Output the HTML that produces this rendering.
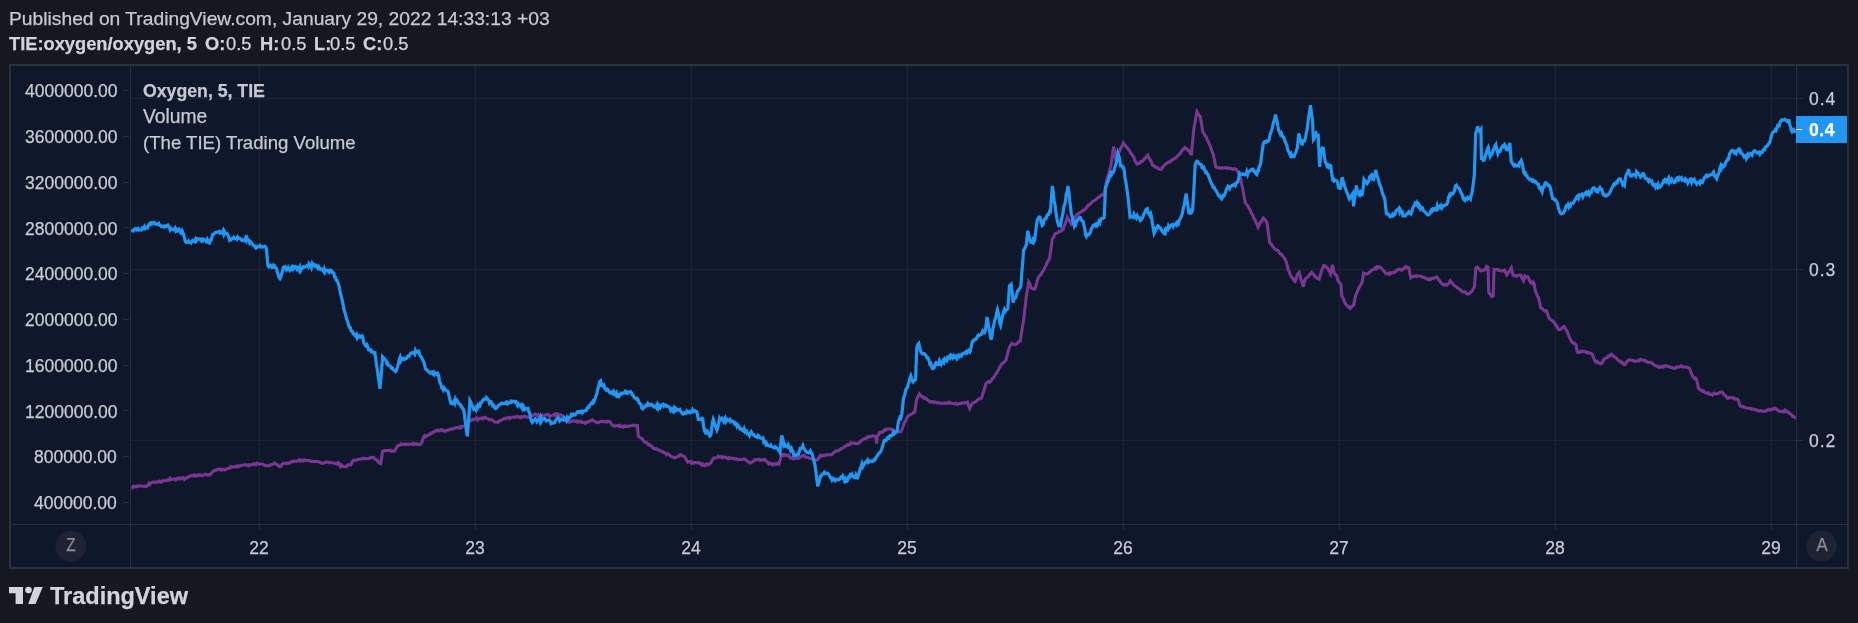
<!DOCTYPE html><html><head><meta charset="utf-8"><style>
html,body{margin:0;padding:0;}
body{width:1858px;height:623px;overflow:hidden;background:#151821;position:relative;font-family:"Liberation Sans", sans-serif;}
.t{position:absolute;white-space:nowrap;line-height:1;will-change:transform;-webkit-text-stroke:0.25px currentColor;}
#panel{position:absolute;left:9px;top:64px;width:1840px;height:505px;box-sizing:border-box;border:2px solid #2d3039;background:#0f172a;}

</style></head><body>
<div id="panel"></div>
<svg width="1858" height="623" viewBox="0 0 1858 623" style="position:absolute;left:0;top:0">
<defs><clipPath id="pane"><rect x="131" y="66" width="1665" height="458"/></clipPath></defs>
<rect x="259" y="66" width="1" height="458" fill="#20232d"/>
<rect x="475" y="66" width="1" height="458" fill="#20232d"/>
<rect x="691" y="66" width="1" height="458" fill="#20232d"/>
<rect x="907" y="66" width="1" height="458" fill="#20232d"/>
<rect x="1123" y="66" width="1" height="458" fill="#20232d"/>
<rect x="1339" y="66" width="1" height="458" fill="#20232d"/>
<rect x="1555" y="66" width="1" height="458" fill="#20232d"/>
<rect x="1771" y="66" width="1" height="458" fill="#20232d"/>
<rect x="131" y="98" width="1665" height="1" fill="#20232d"/>
<rect x="131" y="269" width="1665" height="1" fill="#20232d"/>
<rect x="131" y="440" width="1665" height="1" fill="#20232d"/>
<rect x="130" y="66" width="1" height="501" fill="#2a2e39"/>
<rect x="1796" y="66" width="1" height="501" fill="#2a2e39"/>
<rect x="11" y="524" width="1836" height="1" fill="#2a2e39"/>
<rect x="259" y="525" width="1" height="5" fill="#2a2e39"/>
<rect x="475" y="525" width="1" height="5" fill="#2a2e39"/>
<rect x="691" y="525" width="1" height="5" fill="#2a2e39"/>
<rect x="907" y="525" width="1" height="5" fill="#2a2e39"/>
<rect x="1123" y="525" width="1" height="5" fill="#2a2e39"/>
<rect x="1339" y="525" width="1" height="5" fill="#2a2e39"/>
<rect x="1555" y="525" width="1" height="5" fill="#2a2e39"/>
<rect x="1771" y="525" width="1" height="5" fill="#2a2e39"/>
<rect x="123" y="90" width="6" height="1" fill="#2a2e39"/>
<rect x="123" y="136" width="6" height="1" fill="#2a2e39"/>
<rect x="123" y="182" width="6" height="1" fill="#2a2e39"/>
<rect x="123" y="227" width="6" height="1" fill="#2a2e39"/>
<rect x="123" y="273" width="6" height="1" fill="#2a2e39"/>
<rect x="123" y="319" width="6" height="1" fill="#2a2e39"/>
<rect x="123" y="365" width="6" height="1" fill="#2a2e39"/>
<rect x="123" y="410" width="6" height="1" fill="#2a2e39"/>
<rect x="123" y="456" width="6" height="1" fill="#2a2e39"/>
<rect x="123" y="502" width="6" height="1" fill="#2a2e39"/>
<rect x="1797" y="98" width="6" height="1" fill="#2a2e39"/>
<rect x="1797" y="269" width="6" height="1" fill="#2a2e39"/>
<rect x="1797" y="440" width="6" height="1" fill="#2a2e39"/>
<g clip-path="url(#pane)" fill="none" stroke-linejoin="miter" stroke-miterlimit="4" stroke-linecap="butt">
<polyline points="131.5,486.4 132.5,487.5 133.5,486.1 134.5,486.6 135.6,486.5 136.6,486.8 137.6,485.8 138.6,486.2 139.6,486.1 140.6,485.9 141.6,486.0 142.6,486.2 143.7,486.3 144.7,486.0 145.7,486.6 146.7,486.4 147.7,485.4 148.7,483.4 149.8,484.6 150.8,483.1 151.8,482.5 152.9,482.1 154.0,482.4 155.1,482.3 156.2,482.2 157.2,481.7 158.3,482.1 159.4,481.2 160.5,481.8 161.5,482.2 162.6,480.7 163.6,480.9 164.7,480.8 165.7,480.6 166.8,480.1 167.8,480.0 169.0,480.1 170.1,478.1 171.3,479.5 172.4,479.3 173.6,479.3 174.6,479.0 175.7,479.8 176.7,478.6 177.8,479.0 178.8,478.0 179.9,479.0 180.9,478.9 182.1,477.9 183.2,477.7 184.4,479.2 185.5,478.3 186.7,477.8 187.9,477.1 189.1,476.6 190.3,476.0 191.4,475.3 192.5,475.5 193.6,476.1 194.7,475.0 195.8,476.1 196.9,476.0 198.0,474.9 199.1,475.4 200.1,474.6 201.2,474.9 202.2,475.7 203.2,475.4 204.2,474.7 205.2,474.1 206.2,474.7 207.2,475.0 208.2,474.6 209.2,475.2 210.3,474.2 211.4,473.4 212.5,471.9 213.6,470.9 214.6,470.3 215.6,470.5 216.6,469.6 217.6,469.8 218.6,469.1 219.8,469.1 221.0,470.2 222.1,469.5 223.3,469.4 224.5,470.1 225.5,469.7 226.6,468.9 227.6,468.4 228.6,468.3 229.6,468.3 230.7,466.6 231.7,467.2 232.7,467.0 233.8,466.8 234.8,466.6 235.9,466.9 236.9,465.8 238.0,466.6 239.0,466.2 240.4,465.6 241.9,465.3 242.9,465.2 244.0,465.0 245.0,464.9 246.1,464.7 247.1,465.1 248.2,465.8 249.2,464.8 250.3,465.1 251.4,464.8 252.5,464.6 253.5,463.9 254.6,464.3 255.7,464.8 256.8,463.1 257.9,463.6 259.0,464.0 260.0,464.2 261.1,464.0 262.2,464.0 263.4,464.6 264.6,465.1 265.7,465.8 266.9,465.6 268.1,465.3 269.3,465.8 270.5,464.9 271.7,464.6 273.1,464.1 274.6,462.9 275.6,463.7 276.6,464.4 277.7,464.8 278.7,466.1 279.7,466.5 280.9,466.1 282.1,464.3 283.3,463.3 284.4,463.3 285.5,463.4 286.6,463.1 287.7,463.4 288.8,463.1 289.9,462.9 291.0,461.9 292.0,461.5 293.1,461.8 294.2,461.0 295.2,461.2 296.3,461.3 297.3,460.8 298.4,460.7 299.4,459.8 300.5,461.1 301.5,460.4 302.5,460.0 303.6,460.9 304.6,460.0 305.7,460.3 306.7,460.7 307.8,460.4 308.8,460.7 309.9,460.5 311.0,461.4 312.0,461.5 313.1,461.4 314.1,461.6 315.1,461.4 316.2,461.2 317.2,461.4 318.2,461.7 319.4,462.0 320.6,462.7 321.8,463.2 323.0,463.3 324.1,462.7 325.3,462.2 326.4,462.0 327.6,462.1 328.7,462.8 329.8,462.4 330.9,462.6 332.0,462.8 333.1,463.0 334.2,463.0 335.3,463.6 336.4,463.2 337.4,464.0 338.4,462.8 339.4,464.5 340.4,466.3 341.4,464.9 342.4,466.0 343.4,466.8 344.4,466.8 345.5,466.5 346.6,466.7 347.6,465.2 348.7,464.9 349.8,465.0 350.9,464.8 352.0,462.4 353.1,460.7 354.1,460.0 355.1,460.5 356.2,460.1 357.2,459.7 358.2,459.5 359.3,459.1 360.4,459.1 361.4,458.7 362.5,458.5 363.7,458.2 364.8,458.7 366.0,458.7 367.1,458.5 368.3,458.5 369.3,458.6 370.3,457.5 371.4,457.7 372.4,457.3 373.4,457.3 374.6,458.8 375.9,459.3 377.1,460.0 378.3,462.2 379.5,463.1 380.7,463.6 382.6,451.2 383.8,450.9 384.9,450.4 386.1,450.9 387.2,450.5 388.2,450.5 389.3,450.6 390.3,450.3 391.4,451.2 392.4,451.1 393.5,451.3 394.5,451.2 395.9,448.8 397.4,446.2 398.7,445.2 400.0,445.0 401.0,443.8 402.0,444.6 403.0,444.3 404.0,444.2 405.0,444.7 406.0,444.1 407.0,444.0 408.0,444.7 409.0,444.1 410.0,444.3 411.0,444.2 412.0,444.4 413.0,443.4 414.1,444.5 415.1,444.0 416.1,443.6 417.1,444.3 418.1,444.2 419.1,444.6 420.1,444.3 421.1,444.0 422.4,440.6 423.7,436.9 424.7,435.7 425.7,436.7 426.7,436.1 427.7,435.3 428.7,434.7 429.7,434.5 430.7,433.1 431.7,433.3 432.7,432.5 433.7,432.0 434.7,431.0 435.8,431.1 436.8,430.6 437.8,429.9 438.9,430.9 440.0,430.7 441.1,429.7 442.2,429.8 443.3,430.8 444.4,430.9 445.5,431.2 446.6,430.4 447.7,429.8 448.8,430.0 449.9,429.2 451.0,429.0 452.1,429.4 453.2,428.6 454.2,428.5 455.3,427.8 456.3,427.4 457.4,427.6 458.4,427.4 459.5,428.0 460.5,426.7 461.6,427.5 462.7,426.2 463.7,426.2 464.8,426.1 465.9,425.3 466.9,423.6 468.0,422.9 469.1,421.2 470.1,421.1 471.2,419.7 472.3,420.0 473.3,419.1 474.4,419.3 475.5,418.8 476.5,417.9 477.6,419.9 478.7,418.8 479.7,418.7 480.8,418.3 481.9,418.0 482.9,418.8 484.0,417.6 485.1,417.2 486.1,418.2 487.2,418.6 488.3,419.0 489.4,419.8 490.4,419.6 491.5,419.7 492.6,420.2 493.7,421.3 494.8,421.9 495.8,422.2 496.9,422.2 498.0,422.4 499.1,420.9 500.2,421.0 501.3,420.3 502.4,419.4 503.5,418.6 504.6,418.4 505.6,418.7 506.7,417.8 507.7,417.9 508.7,417.4 509.8,418.5 510.8,417.6 511.8,417.3 512.8,417.2 513.9,417.1 514.9,417.1 516.0,417.1 517.0,416.3 518.1,416.6 519.2,417.3 520.2,417.6 521.3,416.6 522.4,417.2 523.4,416.8 524.5,416.1 525.6,417.0 526.6,416.6 527.7,417.1 528.8,417.1 529.8,416.3 530.9,416.0 532.0,415.0 533.0,415.4 534.1,415.0 535.1,414.1 536.1,415.1 537.1,415.6 538.2,414.5 539.2,415.4 540.2,415.6 541.2,415.0 542.3,415.0 543.3,415.6 544.4,415.2 545.4,415.0 546.5,414.4 547.6,414.9 548.6,414.7 549.7,416.6 550.7,415.7 551.8,415.6 552.8,415.2 553.9,414.4 554.9,415.5 555.9,413.9 557.0,414.8 558.0,413.8 559.1,414.8 560.2,414.9 561.3,415.1 562.4,415.9 563.5,417.1 564.5,417.8 565.6,419.9 566.6,421.6 567.7,422.1 568.8,422.3 569.9,422.2 571.0,421.3 572.1,421.6 573.2,420.8 574.3,420.9 575.4,421.3 576.5,420.8 577.6,422.2 578.7,421.5 579.8,421.8 580.9,421.2 582.0,422.4 583.1,422.3 584.2,422.4 585.3,423.3 586.3,422.1 587.3,422.4 588.3,421.6 589.4,421.6 590.4,420.7 591.4,420.3 592.4,419.8 593.5,421.0 594.5,421.3 595.6,421.8 596.6,422.7 597.7,422.6 598.8,422.5 599.8,421.8 600.9,421.6 601.9,421.1 603.0,421.6 604.0,421.8 605.0,421.4 606.0,421.8 607.0,422.0 608.0,421.2 609.0,421.7 610.0,421.6 611.4,424.2 612.7,425.6 613.8,425.7 614.9,426.2 615.9,425.8 617.0,425.6 618.1,426.0 619.2,425.3 620.2,426.6 621.3,426.2 622.4,426.5 623.4,427.1 624.4,425.8 625.4,426.4 626.5,426.4 627.5,426.1 628.5,426.3 629.5,426.1 630.6,425.7 631.8,425.5 632.9,425.2 634.0,425.6 635.1,425.4 636.3,425.8 637.4,425.6 638.3,436.2 639.3,436.9 640.3,437.7 641.3,438.5 642.4,438.9 643.4,440.5 644.4,441.7 645.4,442.4 646.4,442.4 647.4,443.5 648.4,444.6 649.4,444.6 650.4,445.6 651.4,446.0 652.4,446.8 653.5,448.5 654.6,448.5 655.7,449.0 656.8,448.7 657.9,449.8 659.0,450.0 660.1,450.8 661.2,451.2 662.3,451.5 663.4,452.4 664.5,452.5 665.7,453.5 666.8,454.8 667.9,453.9 669.0,454.4 670.1,455.6 671.2,456.4 672.3,457.1 673.4,457.2 674.5,457.9 675.5,457.6 676.6,457.0 677.6,456.6 678.6,456.4 679.7,454.9 680.7,454.7 681.8,455.7 682.9,456.1 684.0,456.4 685.1,457.4 686.4,460.0 687.7,462.2 688.8,461.7 689.9,461.6 691.0,462.9 692.1,461.9 693.2,463.3 694.3,463.1 695.4,462.4 696.5,462.7 697.6,462.7 698.7,462.4 699.8,463.8 701.0,463.5 702.1,465.3 703.2,464.2 704.3,465.4 705.4,465.7 706.5,463.9 707.5,464.5 708.6,464.8 709.6,463.5 710.7,463.2 712.0,460.4 713.3,458.3 714.3,457.9 715.3,458.0 716.3,458.0 717.3,457.3 718.3,456.2 719.3,457.1 720.3,457.2 721.3,456.5 722.4,457.8 723.5,457.0 724.6,457.3 725.7,457.1 726.8,458.0 727.9,458.7 729.0,457.6 730.1,458.3 731.1,458.5 732.1,458.1 733.1,458.3 734.1,458.7 735.2,459.1 736.2,458.6 737.2,459.0 738.2,459.9 739.2,459.4 740.3,459.5 741.4,459.6 742.6,459.3 743.7,459.0 744.8,459.0 745.9,460.0 747.0,460.9 748.1,461.5 749.2,462.7 750.3,463.1 751.4,462.3 752.6,461.9 753.8,460.6 754.9,459.8 755.9,460.1 756.9,459.5 758.0,459.5 759.0,459.3 760.0,460.4 761.0,460.0 762.0,459.9 763.1,460.1 764.1,459.4 765.1,459.8 766.3,461.2 767.6,462.4 768.8,464.0 769.8,463.1 770.8,463.9 771.8,463.6 772.8,464.7 773.8,463.7 774.9,463.7 775.9,464.4 776.9,464.0 777.9,463.4 778.9,464.0 780.3,459.2 781.7,454.2 782.8,454.2 783.9,455.6 785.0,454.6 786.1,455.1 787.2,455.7 788.3,455.0 789.4,456.5 790.5,458.2 791.5,457.8 792.6,458.0 793.7,459.0 794.7,458.7 795.8,458.0 796.8,457.7 797.9,458.5 798.9,457.9 799.9,457.3 801.0,456.9 802.0,455.7 803.0,455.6 804.1,455.4 805.1,457.0 806.1,457.1 807.2,457.3 808.2,457.5 809.2,458.2 810.3,458.4 811.3,458.5 812.4,459.0 813.5,459.4 814.6,459.5 815.7,459.8 816.8,460.3 818.0,459.3 819.3,456.9 820.5,455.3 821.5,456.2 822.5,455.5 823.6,455.2 824.6,455.6 825.6,454.8 826.6,454.9 827.7,454.8 828.7,454.9 829.7,454.8 830.8,454.6 831.8,454.7 832.9,453.5 833.9,452.2 835.0,451.8 836.0,450.8 837.1,451.1 838.2,450.8 839.2,450.2 840.3,449.3 841.3,448.6 842.4,448.1 843.4,447.4 844.5,446.5 845.6,446.3 846.6,445.7 847.7,444.6 848.7,445.0 849.8,444.8 850.8,442.9 851.9,443.2 853.0,443.2 854.1,442.9 855.2,443.7 856.3,443.5 857.4,443.7 858.5,443.5 859.6,442.5 860.8,441.0 861.9,440.1 863.0,439.5 864.1,438.8 865.1,438.8 866.2,437.7 867.2,437.9 868.3,436.6 869.3,437.2 870.4,436.3 871.5,436.5 872.6,435.8 873.7,435.9 874.8,436.4 875.9,436.3 876.6,443.5 877.4,436.0 878.4,435.0 879.5,432.4 880.5,432.6 881.6,432.1 882.7,432.1 883.8,430.5 884.8,429.5 885.9,430.1 887.0,428.9 888.2,429.0 889.5,429.0 890.7,428.9 891.8,429.9 892.9,429.8 894.0,430.8 895.1,431.3 896.2,432.6 897.4,431.8 898.5,432.0 899.6,431.4 900.8,431.7 902.0,429.4 903.3,425.8 904.5,422.5 905.7,420.7 907.0,417.4 908.2,416.0 909.3,415.3 910.4,414.7 911.5,414.2 912.5,413.7 913.6,412.5 914.7,412.3 916.5,400.3 917.9,396.7 919.3,393.9 920.5,395.2 921.8,396.7 923.0,396.6 924.1,398.3 925.1,398.0 926.2,398.5 927.3,399.8 928.3,400.6 929.4,401.2 930.4,402.2 931.5,401.5 932.5,401.5 933.6,402.5 934.6,401.9 935.7,402.1 936.7,402.9 937.8,402.8 938.8,402.6 939.9,403.2 940.9,403.5 942.0,403.2 943.0,403.2 944.1,402.9 945.2,403.5 946.2,402.9 947.3,402.8 948.4,403.4 949.4,402.4 950.5,402.8 951.5,403.4 952.6,403.5 953.6,403.3 954.6,403.8 955.6,403.2 956.7,404.2 957.7,404.3 958.8,403.6 959.9,403.4 960.9,403.6 962.0,402.9 963.1,403.0 964.2,402.9 965.2,402.9 966.3,402.3 967.4,401.9 968.6,405.6 969.8,408.4 971.0,405.6 972.2,403.5 973.3,402.7 974.3,402.5 975.4,402.0 976.5,401.0 977.5,399.9 978.6,399.0 979.7,398.4 980.7,398.7 981.8,397.5 982.9,393.4 984.0,390.2 985.0,387.0 986.1,383.1 987.3,382.7 988.5,381.6 989.8,382.2 991.0,380.7 992.0,379.3 993.1,377.9 994.1,376.7 995.2,374.8 996.2,373.5 997.4,371.7 998.7,369.2 999.9,366.7 1001.1,365.0 1002.3,363.4 1003.5,362.8 1004.7,361.4 1005.9,360.2 1007.1,355.7 1008.3,351.2 1009.5,347.0 1010.7,345.1 1011.9,343.4 1013.1,344.2 1014.3,344.7 1015.5,344.6 1016.7,343.6 1017.9,342.9 1019.1,341.1 1020.3,341.0 1021.5,332.8 1022.7,325.4 1023.9,318.1 1025.1,306.9 1026.3,296.5 1027.5,289.6 1028.7,282.0 1029.9,284.0 1031.1,288.0 1032.3,288.6 1033.5,289.1 1034.7,289.2 1035.9,286.2 1037.2,281.0 1038.4,277.2 1039.6,275.8 1040.8,274.7 1042.0,272.4 1043.0,271.2 1044.1,269.2 1045.2,266.6 1046.3,264.7 1047.4,262.1 1048.5,260.5 1049.6,258.3 1050.9,249.1 1052.3,239.2 1053.7,237.1 1055.0,233.7 1056.0,233.4 1057.0,233.1 1058.1,232.6 1059.1,231.3 1060.1,231.4 1061.2,231.1 1062.2,230.0 1063.2,229.6 1064.2,226.1 1065.2,223.5 1066.3,220.4 1067.3,217.3 1068.3,219.3 1069.3,219.9 1070.4,222.3 1071.4,224.2 1072.5,223.2 1073.6,220.9 1074.7,218.4 1075.8,216.4 1076.9,214.6 1078.0,213.8 1079.2,212.8 1080.3,212.3 1081.4,211.8 1082.6,210.6 1083.7,210.5 1084.7,209.4 1085.8,208.6 1086.8,206.8 1087.8,206.2 1088.8,204.7 1089.9,204.4 1090.9,203.4 1091.9,202.3 1093.0,201.2 1094.1,200.7 1095.1,200.1 1096.2,199.3 1097.3,198.2 1098.5,196.9 1099.6,196.7 1100.8,195.5 1101.9,194.6 1103.0,195.2 1104.2,194.1 1105.6,186.9 1106.9,179.1 1107.9,176.3 1109.0,172.6 1110.0,168.7 1111.0,165.5 1112.3,156.0 1113.7,146.4 1114.8,153.0 1115.9,160.0 1117.0,157.9 1118.1,153.5 1119.2,151.8 1120.2,149.8 1121.2,147.2 1122.3,145.6 1123.3,143.1 1124.3,144.8 1125.3,145.1 1126.4,147.2 1127.4,147.7 1128.5,149.8 1129.6,150.3 1130.6,153.4 1131.7,153.7 1132.8,155.9 1133.8,157.3 1134.8,160.4 1135.9,161.7 1136.9,164.1 1137.9,163.8 1139.0,163.3 1140.0,162.9 1141.1,161.3 1142.2,161.4 1143.3,160.3 1144.4,158.5 1145.5,158.1 1146.6,156.3 1147.7,155.2 1148.7,157.4 1149.7,159.2 1150.8,160.8 1151.8,163.3 1152.8,165.5 1153.9,165.6 1155.0,166.8 1156.1,167.2 1157.2,167.4 1158.3,168.8 1159.4,168.9 1160.5,169.3 1161.6,169.1 1162.7,167.0 1163.8,165.9 1164.8,164.7 1165.9,164.1 1167.0,162.9 1168.0,162.3 1169.0,161.8 1170.0,162.0 1171.0,161.0 1172.0,159.8 1173.0,159.7 1174.0,158.8 1175.0,158.2 1176.0,157.8 1177.0,156.6 1178.0,155.5 1179.0,154.7 1180.0,153.7 1181.0,152.1 1182.0,150.6 1183.0,149.8 1184.0,148.6 1185.0,147.5 1186.1,148.4 1187.1,149.1 1188.2,150.6 1189.3,150.9 1190.3,153.4 1191.4,153.9 1192.7,141.4 1193.9,128.2 1194.9,123.0 1196.0,116.7 1197.0,111.6 1198.1,113.4 1199.2,115.6 1200.3,116.7 1201.6,124.3 1202.9,132.1 1203.9,133.4 1205.0,135.7 1206.0,136.5 1207.1,139.7 1208.1,141.1 1209.1,143.9 1210.1,145.6 1211.2,149.1 1212.2,151.9 1213.2,153.9 1214.5,160.6 1215.8,166.8 1216.9,167.3 1217.9,167.9 1219.0,167.6 1220.1,168.3 1221.1,167.8 1222.2,168.1 1223.3,167.8 1224.4,168.0 1225.5,167.6 1226.6,168.3 1227.7,167.8 1228.8,168.3 1229.9,168.1 1231.0,168.4 1232.0,169.2 1233.1,169.5 1234.2,168.7 1235.2,169.0 1236.3,169.3 1237.6,171.8 1238.9,174.2 1240.2,177.0 1241.5,183.6 1242.7,188.6 1244.0,196.2 1245.3,202.7 1246.3,204.1 1247.3,205.2 1248.4,207.0 1249.4,208.9 1250.4,210.4 1251.5,213.5 1252.6,214.6 1253.7,218.2 1254.8,219.3 1255.9,222.5 1257.0,224.2 1258.1,227.1 1259.1,225.1 1260.2,222.4 1261.2,222.0 1262.3,219.9 1263.3,218.1 1264.6,219.4 1265.8,220.6 1267.1,223.3 1268.4,232.9 1269.7,242.5 1270.7,243.8 1271.7,244.4 1272.8,246.6 1273.8,247.6 1274.8,248.9 1275.9,249.3 1276.9,250.3 1278.0,250.4 1279.1,252.7 1280.1,253.7 1281.2,254.1 1282.4,255.8 1283.6,257.0 1284.8,258.8 1286.0,261.1 1287.2,265.5 1288.3,270.1 1289.3,272.0 1290.3,274.8 1291.3,276.9 1292.6,278.0 1293.8,280.3 1295.1,281.4 1296.2,278.6 1297.3,274.7 1298.3,273.3 1299.3,272.4 1301.1,279.9 1302.2,282.9 1303.4,286.7 1304.5,281.2 1305.6,278.4 1306.6,277.7 1307.6,277.1 1308.6,276.2 1309.6,274.5 1310.6,274.2 1311.6,272.4 1312.9,273.6 1314.1,274.9 1315.4,276.9 1316.7,278.0 1317.9,278.6 1319.2,279.2 1320.7,273.9 1321.7,270.2 1322.7,268.0 1323.7,265.6 1325.0,265.8 1326.2,267.0 1327.5,267.9 1328.5,270.0 1329.5,271.7 1330.5,273.9 1332.4,264.9 1334.2,273.2 1335.3,274.4 1336.5,275.4 1338.0,280.7 1339.0,282.4 1340.0,283.1 1341.0,284.5 1341.8,295.8 1342.8,297.5 1343.8,299.8 1344.8,302.5 1345.9,304.1 1346.9,305.7 1348.0,306.1 1349.0,307.5 1350.1,308.6 1351.3,307.0 1352.6,305.8 1353.8,304.8 1355.3,296.5 1356.3,294.4 1357.4,291.3 1358.4,289.0 1359.6,286.8 1360.9,284.5 1362.1,282.2 1363.6,273.2 1364.9,273.9 1366.1,273.8 1367.4,273.9 1368.7,272.9 1369.9,271.8 1371.2,270.9 1372.4,269.7 1373.7,269.4 1374.9,267.9 1376.0,268.7 1377.0,266.9 1378.1,267.9 1379.1,266.8 1380.2,267.1 1381.3,268.0 1382.5,269.4 1383.7,270.8 1385.0,272.2 1386.2,273.9 1387.3,273.6 1388.3,273.3 1389.4,274.3 1390.4,272.7 1391.5,273.2 1392.5,272.6 1393.5,272.3 1394.5,272.4 1395.8,271.5 1397.0,269.8 1398.3,269.4 1399.4,269.4 1400.5,269.4 1401.7,270.3 1402.8,269.4 1403.8,268.7 1404.8,267.4 1405.8,266.4 1406.8,266.9 1407.8,268.2 1408.8,267.9 1409.8,272.7 1410.8,277.7 1411.9,276.9 1413.0,276.4 1414.1,276.2 1415.1,276.0 1416.1,276.6 1417.1,275.7 1418.1,275.9 1419.1,276.2 1420.1,276.2 1421.2,276.2 1422.4,277.2 1423.5,277.1 1424.7,277.7 1425.7,278.2 1426.7,278.5 1427.7,279.3 1428.7,279.7 1429.7,278.8 1430.7,279.5 1431.7,278.5 1432.7,278.1 1433.7,278.4 1434.7,278.0 1435.7,277.3 1436.7,276.9 1437.7,278.1 1438.7,280.1 1439.7,280.7 1440.7,282.4 1441.7,283.3 1442.7,284.5 1444.0,285.0 1445.2,284.3 1446.5,285.2 1447.8,284.2 1449.0,283.1 1450.3,280.7 1451.4,282.1 1452.5,283.2 1453.7,285.2 1454.8,286.0 1455.9,286.5 1457.0,287.5 1458.2,288.5 1459.3,289.0 1460.6,289.9 1461.8,291.3 1463.1,292.0 1464.2,291.6 1465.2,291.8 1466.3,293.6 1467.3,294.0 1468.4,294.2 1469.6,293.3 1470.9,292.0 1472.1,291.2 1473.2,289.0 1474.4,286.7 1475.9,267.9 1477.4,267.1 1478.4,268.6 1479.4,269.1 1480.4,270.9 1481.7,270.7 1482.9,270.0 1484.2,270.1 1485.3,269.2 1486.5,266.4 1488.0,267.1 1488.7,292.0 1489.7,293.7 1490.7,295.1 1491.7,296.5 1493.2,295.8 1494.0,269.4 1495.0,269.9 1496.0,269.8 1497.0,269.4 1498.1,270.2 1499.2,269.9 1500.4,270.6 1501.5,270.9 1502.5,271.0 1503.5,270.5 1504.5,270.1 1505.7,272.5 1506.8,274.7 1507.9,272.9 1509.1,271.6 1510.2,269.8 1511.3,267.9 1512.8,274.7 1514.1,275.8 1515.3,275.2 1516.6,276.2 1517.7,275.4 1518.8,275.3 1520.0,274.9 1521.1,275.4 1522.2,278.6 1523.4,280.7 1524.9,276.2 1525.9,277.3 1526.9,276.9 1527.9,276.9 1528.9,278.9 1529.9,281.5 1530.9,282.9 1531.9,283.4 1532.9,281.9 1533.9,282.9 1535.4,291.2 1536.4,293.2 1537.4,296.4 1538.4,297.3 1539.6,302.4 1540.7,307.8 1541.7,308.3 1542.7,309.1 1543.7,310.1 1544.7,311.0 1545.7,310.4 1546.7,310.8 1547.8,314.6 1549.0,318.0 1550.0,319.4 1551.0,319.9 1552.0,320.7 1553.0,321.1 1554.0,322.5 1555.0,323.4 1556.0,325.9 1557.0,326.2 1558.0,328.7 1559.0,329.7 1560.0,329.6 1561.0,329.1 1562.1,327.7 1563.1,326.8 1564.1,326.5 1565.1,328.1 1566.1,330.1 1567.1,331.1 1568.1,334.0 1569.1,336.6 1570.1,339.1 1571.1,340.4 1572.1,342.2 1573.1,343.1 1574.1,342.9 1575.1,343.9 1576.1,345.1 1577.1,351.8 1578.1,352.5 1579.1,352.0 1580.1,352.1 1581.1,351.0 1582.1,351.8 1583.1,351.4 1584.1,351.6 1585.1,351.8 1586.1,351.8 1587.1,352.7 1588.1,352.4 1589.2,353.1 1590.2,353.1 1591.2,353.7 1592.2,354.2 1593.2,356.7 1594.2,359.1 1595.2,361.2 1596.2,362.1 1597.2,361.5 1598.2,362.8 1599.2,363.1 1600.2,363.0 1601.2,363.8 1602.2,362.9 1603.2,360.4 1604.2,359.2 1605.2,358.3 1606.2,358.0 1607.2,357.7 1608.2,356.2 1609.2,356.3 1610.2,355.1 1611.2,354.2 1612.2,354.7 1613.2,356.1 1614.2,356.6 1615.2,357.1 1616.2,358.2 1617.2,358.9 1618.2,360.4 1619.2,360.8 1620.2,361.3 1621.3,362.6 1622.3,362.4 1623.3,364.1 1624.3,364.6 1625.3,364.2 1626.3,362.2 1627.3,361.2 1628.3,360.4 1629.3,359.8 1630.3,360.0 1631.3,360.0 1632.3,360.6 1633.3,360.5 1634.3,361.2 1635.3,361.2 1636.3,361.1 1637.3,360.9 1638.3,360.2 1639.3,360.7 1640.3,359.5 1641.3,359.7 1642.3,359.8 1643.3,360.1 1644.3,361.0 1645.3,360.5 1646.3,361.3 1647.3,362.0 1648.3,362.5 1649.3,362.7 1650.3,362.2 1651.3,362.5 1652.3,363.6 1653.3,364.3 1654.3,365.0 1655.4,365.6 1656.4,365.9 1657.4,366.6 1658.4,367.2 1659.4,366.4 1660.4,367.2 1661.4,366.8 1662.4,366.2 1663.4,367.1 1664.4,366.2 1665.4,365.7 1666.4,365.8 1667.4,366.4 1668.4,366.6 1669.4,367.0 1670.4,367.0 1671.4,367.6 1672.4,367.7 1673.4,368.4 1674.4,368.2 1675.4,368.0 1676.4,367.2 1677.4,366.8 1678.4,367.1 1679.4,367.0 1680.4,366.2 1681.4,365.8 1682.4,366.9 1683.4,366.8 1684.4,367.2 1685.4,367.0 1686.4,367.0 1687.4,367.5 1688.4,367.6 1689.4,368.2 1690.4,370.7 1691.5,373.6 1692.5,376.2 1693.5,377.0 1694.5,378.5 1695.5,378.0 1696.5,379.2 1697.5,383.6 1698.5,388.3 1699.5,389.1 1700.5,390.1 1701.5,390.1 1702.5,391.3 1703.5,391.0 1704.5,392.2 1705.5,392.6 1706.5,393.1 1707.5,393.5 1708.5,392.9 1709.5,394.4 1710.5,394.3 1711.5,394.2 1712.5,395.1 1713.5,393.9 1714.5,393.1 1715.5,393.9 1716.5,393.9 1717.5,393.6 1718.5,393.2 1719.5,392.8 1720.5,392.1 1721.5,391.9 1722.5,392.2 1723.5,394.0 1724.5,395.0 1725.6,395.9 1726.6,397.3 1727.6,398.3 1728.6,398.1 1729.6,397.3 1730.6,397.7 1731.6,397.7 1732.6,397.9 1733.6,397.9 1734.6,399.0 1735.6,398.6 1736.6,399.2 1737.6,399.3 1738.6,400.7 1739.6,404.5 1740.6,406.3 1741.6,406.3 1742.6,407.0 1743.6,406.6 1744.6,407.3 1745.6,407.9 1746.6,407.8 1747.6,408.2 1748.6,408.3 1749.6,408.2 1750.6,408.4 1751.6,409.1 1752.6,409.1 1753.6,409.5 1754.6,409.4 1755.6,409.9 1756.6,409.9 1757.6,410.6 1758.6,411.1 1759.7,410.5 1760.7,410.6 1761.7,411.2 1762.7,411.3 1763.7,411.5 1764.7,411.0 1765.7,411.2 1766.7,410.4 1767.7,409.9 1768.7,409.3 1769.7,409.9 1770.7,410.0 1771.7,409.5 1772.7,408.8 1773.7,409.0 1774.7,408.1 1775.7,408.3 1776.7,409.5 1777.7,410.3 1778.7,411.1 1779.7,411.3 1780.7,411.1 1781.7,411.8 1782.7,411.5 1783.7,411.8 1784.7,410.3 1785.7,411.4 1786.7,410.9 1787.7,412.3 1788.7,412.3 1789.7,413.7 1790.7,414.0 1791.7,414.9 1792.7,416.4 1793.8,416.5 1794.8,417.5 1795.8,418.4" stroke="#793792" stroke-width="3.1"/>
<polyline points="131.6,229.4 132.4,230.7 133.2,231.0 134.0,229.6 134.8,228.9 135.6,228.6 136.4,229.8 137.2,228.8 138.0,228.4 138.8,230.1 139.6,230.0 140.4,229.8 141.2,229.9 142.0,228.2 142.8,228.8 143.6,228.4 144.4,226.7 145.2,228.4 146.0,227.6 146.8,227.1 147.6,227.7 148.4,225.2 149.2,224.0 150.0,223.3 150.8,224.3 151.7,223.1 152.5,223.6 153.3,222.5 154.1,222.4 154.9,223.2 155.7,224.3 156.4,224.2 157.2,223.9 158.0,224.0 158.8,223.4 159.6,225.3 160.4,225.4 161.2,226.5 162.0,226.2 162.8,226.3 163.7,227.1 164.5,225.9 165.3,226.1 166.2,226.5 167.0,225.7 167.8,225.1 168.6,226.4 169.3,226.8 170.1,229.6 170.9,228.3 171.7,228.9 172.5,229.7 173.3,229.8 174.1,229.1 174.9,228.0 175.8,230.7 176.6,229.5 177.4,230.8 178.2,230.2 179.0,229.3 179.8,230.7 180.6,232.8 181.4,233.4 182.2,231.1 183.0,232.9 183.8,234.5 184.6,238.7 185.4,241.7 186.2,242.5 187.0,242.0 187.8,242.2 188.6,241.0 189.4,242.0 190.2,242.5 191.0,243.0 191.8,241.4 192.6,240.4 193.4,241.0 194.2,241.7 195.0,242.0 195.8,239.1 196.6,240.3 197.4,238.9 198.2,239.3 199.0,239.0 199.8,238.8 200.6,239.1 201.4,240.7 202.2,239.6 203.0,240.6 203.8,239.3 204.6,239.7 205.4,239.9 206.2,241.3 207.1,239.6 207.9,241.9 208.7,242.6 209.5,243.0 210.3,240.1 211.1,240.1 211.9,237.3 212.7,234.4 213.5,234.5 214.3,233.8 215.1,232.6 215.9,232.5 216.7,232.4 217.5,232.1 219.0,231.3 219.8,232.8 220.6,231.9 221.4,232.1 222.2,232.8 223.1,230.8 223.9,234.1 224.7,232.1 225.5,233.9 226.3,233.7 227.1,233.7 227.9,235.0 228.7,236.7 229.5,240.0 230.3,239.3 231.1,239.8 231.9,238.4 232.7,238.5 233.6,237.5 234.4,238.5 235.2,237.8 236.0,238.2 236.8,239.1 237.6,237.2 238.4,238.4 239.2,238.1 240.0,238.4 240.8,239.3 241.6,240.1 242.4,239.6 243.2,240.1 244.0,240.8 244.8,240.8 245.6,238.4 246.4,240.4 247.2,238.2 248.0,240.0 248.8,240.1 249.6,242.8 250.4,241.7 251.2,242.5 252.0,243.9 252.8,244.7 253.6,245.6 254.4,245.7 255.2,247.4 256.0,248.2 256.8,247.7 257.6,246.3 258.4,246.6 259.2,246.6 260.0,245.7 260.8,246.9 261.6,246.5 262.4,247.0 263.2,246.5 264.0,246.7 264.8,246.3 265.6,247.3 266.4,248.2 267.2,258.0 268.0,265.8 268.8,266.8 269.6,265.9 270.4,265.2 271.2,266.1 272.1,267.5 272.9,267.2 273.7,265.1 274.5,265.8 275.3,267.6 276.1,268.0 276.9,270.2 277.6,273.4 278.4,275.0 279.2,277.8 280.0,278.7 280.8,277.1 281.6,273.9 282.5,271.5 283.3,267.4 284.1,267.0 284.9,266.6 285.7,268.4 286.5,269.9 287.3,268.6 288.1,267.3 288.9,268.9 289.7,270.2 290.5,269.0 291.3,267.6 292.1,269.0 292.9,267.2 293.7,268.7 294.5,267.8 295.3,266.6 296.1,267.2 296.9,268.9 297.7,267.0 298.5,267.0 299.3,269.7 300.1,267.3 300.9,270.2 301.7,268.7 302.5,268.2 303.3,266.7 304.1,267.2 305.0,266.9 305.8,266.5 306.6,265.8 307.4,265.6 308.2,266.8 309.0,263.9 309.8,265.1 310.6,265.4 311.4,267.4 312.2,263.8 313.0,265.3 313.8,264.4 314.6,264.9 315.4,266.2 316.2,265.5 317.0,266.4 317.8,268.0 318.6,266.5 319.4,267.9 320.2,269.4 321.0,269.6 321.8,268.9 322.6,269.8 323.4,271.0 324.2,269.0 325.0,271.8 325.8,270.2 326.6,270.1 327.4,270.5 328.2,271.2 329.0,272.1 329.8,270.3 330.6,270.2 331.4,270.6 332.2,272.6 333.0,272.5 333.8,273.1 334.6,277.0 335.4,277.1 336.2,280.0 337.0,280.3 337.9,282.5 338.9,285.0 339.8,290.0 340.8,294.5 341.8,298.7 342.8,302.8 343.7,308.3 344.5,311.1 345.4,314.4 346.2,317.3 347.0,320.1 347.7,321.7 348.5,324.7 349.3,327.2 350.2,327.4 351.2,330.9 352.2,331.2 353.1,333.6 354.0,333.7 354.8,335.3 355.6,336.1 356.5,334.7 357.4,338.0 358.2,336.7 359.0,335.9 359.8,337.1 360.5,337.1 361.3,336.1 362.1,335.7 363.0,338.6 363.8,343.0 364.7,343.9 365.5,345.8 366.3,346.3 367.1,345.0 367.9,347.0 368.7,349.9 369.5,349.9 370.3,349.7 371.1,351.6 372.1,351.3 373.0,351.9 373.9,353.3 374.9,352.9 375.8,359.3 376.6,365.9 377.4,370.0 378.3,377.8 379.1,382.3 380.0,388.8 380.9,377.8 381.7,369.2 382.6,356.8 383.5,357.9 384.3,358.8 385.2,359.8 386.1,360.7 386.9,363.7 387.8,363.2 388.7,365.5 389.5,365.8 390.4,366.2 391.2,368.0 392.1,367.8 392.9,369.3 393.8,370.1 394.6,370.8 395.5,371.6 396.4,370.2 397.4,367.2 398.4,363.7 399.3,359.3 400.1,357.3 400.9,360.8 401.7,359.5 402.5,358.2 403.3,358.5 404.1,359.5 404.9,359.3 405.7,358.0 406.5,358.2 407.3,356.9 408.1,356.1 408.9,356.3 409.8,354.7 410.6,353.3 411.4,352.9 412.2,352.9 413.0,352.5 413.8,352.8 414.6,354.0 415.4,350.6 416.2,352.3 417.0,351.5 417.8,351.6 418.6,351.1 419.6,354.5 420.5,356.4 421.4,357.1 422.4,359.3 423.2,360.8 424.0,362.1 424.7,365.4 425.5,368.8 426.3,369.6 427.1,369.8 427.9,371.3 428.7,371.7 429.5,371.9 430.3,373.1 431.1,372.3 431.9,372.1 432.7,373.4 433.6,372.2 434.4,374.3 435.2,373.0 436.1,373.1 436.9,374.2 437.8,373.4 438.6,375.5 439.4,380.9 440.1,382.6 440.9,384.2 441.7,387.6 442.5,387.4 443.3,389.6 444.1,387.8 444.9,388.9 445.7,390.0 446.5,390.7 447.3,390.9 448.1,391.4 449.0,395.7 449.8,398.8 450.7,403.0 451.5,402.6 452.3,403.6 453.1,402.7 453.9,401.3 454.7,403.1 455.5,399.2 456.3,400.8 457.1,400.4 457.9,402.2 458.7,403.6 459.5,403.9 460.3,404.5 461.1,406.6 461.9,407.0 462.7,408.7 463.5,409.4 464.3,413.0 465.1,420.5 465.8,424.7 466.6,431.9 467.4,436.3 468.2,425.1 469.1,413.1 469.9,400.4 470.7,401.8 471.5,404.4 472.2,405.5 473.0,407.8 473.8,409.4 474.6,408.8 475.5,407.7 476.4,409.9 477.2,408.4 478.0,405.4 478.9,406.8 479.8,406.4 480.6,402.8 481.4,402.7 482.3,401.1 483.1,399.8 484.0,399.1 484.8,399.3 485.6,398.8 486.3,397.7 487.1,399.1 487.9,399.1 488.7,400.4 489.4,402.8 490.2,401.5 491.0,401.7 491.8,403.5 492.5,405.5 493.3,404.9 494.1,406.0 494.8,408.2 495.6,408.6 496.4,407.9 497.2,407.4 498.0,405.9 498.8,405.0 499.6,404.8 500.4,404.2 501.2,403.4 502.0,403.0 502.8,403.4 503.6,403.5 504.4,403.5 505.2,403.5 506.0,402.1 506.8,401.9 507.6,403.8 508.4,403.0 509.3,402.8 510.1,402.7 511.0,401.2 511.9,401.9 512.7,401.3 513.6,401.7 514.4,401.4 515.2,402.1 516.0,401.8 516.8,403.9 517.6,405.6 518.4,404.2 519.2,405.6 520.0,406.0 520.8,405.2 521.6,407.3 522.4,408.7 523.2,406.0 523.9,407.3 524.7,409.3 525.5,408.5 526.3,408.6 527.1,408.8 528.0,408.5 528.8,411.6 529.7,413.3 530.6,418.2 531.5,421.2 532.3,422.5 533.0,421.6 533.8,420.3 534.6,420.1 535.4,418.8 536.2,419.4 536.9,421.5 537.7,420.3 538.5,420.0 539.3,418.6 540.0,421.1 540.8,417.9 541.6,420.6 542.4,418.8 543.1,419.3 543.9,419.5 544.7,418.6 545.5,419.4 546.3,420.8 547.1,420.1 547.9,420.2 548.6,420.4 549.4,420.1 550.2,421.3 551.0,423.5 551.8,423.0 552.7,423.1 553.6,422.9 554.5,422.6 555.3,420.8 556.2,419.8 557.1,418.6 558.0,417.4 558.9,418.6 559.8,420.8 560.6,419.7 561.5,419.1 562.4,419.4 563.2,419.9 564.0,418.0 564.7,419.1 565.5,418.8 566.3,420.3 567.1,417.7 568.0,419.5 568.8,418.9 569.6,417.0 570.5,416.8 571.3,414.6 572.2,415.3 573.0,414.1 573.8,414.6 574.6,415.1 575.3,414.8 576.1,413.4 576.9,412.5 577.7,411.5 578.4,411.5 579.2,412.4 580.0,411.5 580.8,412.0 581.5,411.3 582.3,412.8 583.1,411.7 583.9,411.0 584.7,410.6 585.4,410.8 586.2,410.6 587.1,408.4 588.0,407.1 588.8,407.2 589.7,405.1 590.6,404.4 591.5,403.1 592.4,403.5 593.2,401.0 594.1,401.5 595.0,399.1 595.9,395.9 596.8,394.2 597.7,389.4 598.8,385.9 599.8,381.5 600.6,380.8 601.4,384.9 602.2,384.6 603.0,385.9 603.9,385.2 604.8,388.2 605.6,389.4 606.5,390.3 607.4,389.3 608.3,390.3 609.1,391.7 610.0,392.9 610.9,392.9 611.8,392.1 612.6,393.8 613.3,394.2 614.1,391.8 614.9,393.4 615.7,394.8 616.5,393.3 617.2,396.4 618.0,396.1 618.8,396.6 619.5,394.4 620.3,394.4 621.1,393.4 621.9,393.9 622.7,393.4 623.4,393.0 624.2,392.6 625.1,391.5 626.0,392.8 626.9,392.0 627.7,393.2 628.6,392.5 629.5,392.1 630.4,391.5 631.2,392.4 632.1,394.8 633.0,395.1 633.9,396.9 634.7,398.1 635.6,398.2 636.5,399.3 637.4,398.6 638.3,400.2 639.2,403.0 640.1,403.5 641.0,404.7 641.8,408.0 642.7,408.7 643.6,407.0 644.5,407.2 645.4,406.2 646.3,405.0 647.1,405.5 648.0,403.5 648.9,404.8 649.7,405.3 650.6,404.4 651.5,404.2 652.4,404.9 653.3,406.4 654.2,407.1 655.0,407.0 655.8,406.0 656.5,407.3 657.3,404.9 658.1,407.5 658.9,404.8 659.6,405.3 660.4,407.3 661.2,405.8 662.1,404.9 663.0,404.3 663.9,406.1 664.7,405.1 665.6,405.0 666.5,406.2 667.4,406.1 668.3,406.6 669.1,407.0 670.0,407.5 670.9,410.7 671.8,409.7 672.6,409.0 673.3,410.7 674.1,408.3 674.9,410.2 675.7,408.4 676.5,409.2 677.2,410.3 678.0,409.7 678.9,409.9 679.8,409.4 680.6,411.3 681.5,412.5 682.4,413.9 683.3,414.1 684.2,412.8 685.1,413.2 686.0,413.3 686.8,411.3 687.7,412.6 688.6,412.4 689.4,411.5 690.2,412.7 691.0,412.0 691.8,411.9 692.5,410.1 693.3,411.8 694.1,411.4 694.9,410.7 695.7,411.1 696.5,411.5 697.4,414.2 698.3,419.4 699.2,419.4 700.1,419.7 700.9,419.5 701.8,418.2 702.7,418.6 703.6,426.4 704.5,430.9 705.3,432.3 706.0,431.1 706.8,432.4 707.6,431.5 708.4,433.5 709.2,434.9 709.9,436.0 710.7,435.3 711.6,429.6 712.4,422.9 713.3,419.4 714.2,421.9 715.1,426.1 716.0,427.5 716.9,430.0 717.8,427.5 718.6,423.2 719.5,418.6 720.3,420.3 721.1,419.5 721.9,418.4 722.7,419.7 723.5,421.2 724.3,419.0 725.1,417.9 725.9,421.6 726.7,420.4 727.5,419.5 728.3,420.3 729.1,420.0 729.9,419.4 730.7,421.9 731.5,421.6 732.2,421.2 733.0,421.7 733.8,422.0 734.6,423.8 735.4,423.0 736.2,423.8 737.0,426.3 737.8,425.1 738.6,426.3 739.4,427.4 740.2,428.9 741.0,428.6 741.8,429.3 742.6,430.6 743.4,431.1 744.2,429.0 745.0,431.6 745.8,430.7 746.6,430.8 747.5,433.9 748.5,433.7 749.4,435.4 750.3,432.7 751.2,431.7 752.1,433.6 753.0,434.6 754.0,434.7 754.9,436.3 755.7,436.6 756.5,436.9 757.3,437.3 758.1,435.5 759.0,436.3 759.8,437.8 760.6,438.2 761.4,438.2 762.2,438.5 763.0,438.0 763.8,441.9 764.5,441.0 765.3,441.1 766.1,444.5 766.9,443.7 767.7,445.3 768.5,445.7 769.2,445.9 770.0,446.1 770.8,445.1 771.6,446.5 772.4,446.8 773.2,447.4 774.0,447.9 774.7,448.0 775.5,446.8 776.3,447.4 777.1,448.3 778.0,449.3 779.0,450.8 779.9,452.4 780.8,443.0 781.7,435.4 782.8,438.7 783.9,445.6 784.8,444.6 785.6,446.3 786.5,446.2 787.4,447.0 788.2,444.9 789.1,446.9 789.9,447.7 790.7,450.2 791.5,448.7 792.2,450.6 793.0,451.2 793.8,455.3 794.6,455.3 795.5,455.2 796.5,454.5 797.4,455.1 798.3,454.8 799.2,451.5 800.2,448.3 801.1,448.3 802.0,447.7 802.9,445.6 803.8,448.3 804.8,449.6 805.7,451.1 806.6,452.1 807.5,452.4 808.5,452.9 809.4,452.0 810.3,450.8 811.3,453.6 812.2,453.9 813.1,457.7 814.1,461.5 815.0,465.0 815.9,471.8 816.8,479.1 817.7,486.2 818.6,483.3 819.6,479.6 820.5,476.0 821.3,475.7 822.1,474.2 822.9,473.6 823.6,473.7 824.4,472.3 825.2,473.2 826.0,473.3 826.9,473.4 827.8,473.3 828.8,474.3 829.7,476.5 830.6,477.9 831.4,477.8 832.2,480.6 833.0,480.1 833.7,478.9 834.5,479.7 835.3,480.6 836.2,479.4 837.1,479.4 838.1,479.6 839.0,479.7 839.9,478.7 840.9,477.2 841.8,477.7 842.7,476.0 843.6,478.0 844.5,480.6 845.4,478.9 846.3,481.6 847.1,481.2 847.9,479.1 848.7,476.8 849.5,477.1 850.3,474.7 851.1,475.2 851.9,474.2 852.7,476.5 853.5,476.6 854.3,477.6 855.0,477.5 855.8,475.3 856.6,477.8 857.4,477.9 858.3,475.3 859.2,472.8 860.2,468.5 861.1,466.8 861.9,464.2 862.7,467.0 863.5,465.6 864.3,464.0 865.1,462.4 865.9,462.3 866.7,461.3 867.5,460.1 868.3,462.3 869.1,461.5 869.9,461.1 870.7,460.9 871.5,461.2 872.3,461.4 873.1,461.3 874.0,459.7 875.0,459.8 875.9,457.6 876.8,456.6 877.8,455.2 878.7,453.2 879.6,452.9 880.5,451.8 881.5,449.6 882.4,446.7 883.3,443.7 884.2,440.5 885.1,440.6 886.1,440.6 887.0,438.2 887.9,437.5 888.9,438.1 889.8,435.7 890.7,435.4 891.6,435.7 892.5,435.0 893.5,432.2 894.4,433.6 895.3,432.3 896.2,431.5 897.1,430.8 898.0,424.6 899.0,419.7 899.9,417.3 900.8,418.2 901.7,415.1 902.7,406.2 903.6,397.5 904.5,395.9 905.4,391.4 906.3,388.5 907.2,387.9 908.1,384.4 909.0,382.3 909.9,378.2 910.8,375.9 911.6,378.4 912.4,380.7 913.2,381.9 914.0,380.7 914.8,380.2 915.6,379.5 916.8,347.0 917.8,344.5 918.8,343.4 919.8,347.7 920.7,351.6 921.7,353.0 922.6,354.0 923.4,353.5 924.3,353.7 925.1,354.6 926.0,355.4 927.0,357.9 927.9,357.8 928.9,360.2 929.8,363.8 930.7,363.2 931.6,366.6 932.5,368.7 933.4,368.5 934.3,367.4 935.2,363.7 936.1,362.6 937.0,363.4 937.8,364.4 938.7,363.8 939.5,360.8 940.4,362.9 941.2,364.4 942.1,362.6 943.0,360.8 943.9,362.3 944.8,359.0 945.7,360.2 946.6,360.9 947.5,357.6 948.4,358.3 949.3,356.6 950.2,357.7 951.0,355.1 951.9,355.7 952.7,357.6 953.6,355.9 954.4,357.6 955.3,357.8 956.1,356.5 956.9,358.3 957.8,356.1 958.6,355.3 959.4,356.4 960.2,355.4 961.1,356.0 962.0,354.0 962.9,353.9 963.8,353.0 964.7,353.3 965.5,352.2 966.4,351.3 967.2,352.8 968.1,351.8 968.9,350.6 969.8,351.8 970.6,349.5 971.4,345.8 972.2,342.2 973.0,341.5 973.8,339.8 974.6,339.6 975.4,339.6 976.2,338.7 977.0,337.4 977.8,335.8 978.6,335.0 979.4,335.5 980.2,334.7 981.0,334.6 981.8,333.0 982.7,331.1 983.6,332.5 984.5,332.7 985.4,330.2 986.2,324.5 987.1,316.9 987.9,321.6 988.7,327.0 989.4,329.4 990.2,334.8 991.0,339.8 991.9,336.8 992.9,328.5 993.8,325.3 994.7,320.2 995.6,318.3 996.6,312.9 997.5,309.7 998.3,313.0 999.0,316.4 999.8,323.1 1000.6,325.3 1001.6,320.3 1002.5,316.2 1003.5,312.1 1004.4,309.6 1005.2,311.4 1006.1,309.9 1006.9,309.7 1007.8,308.5 1008.6,298.6 1009.5,285.6 1010.4,285.2 1011.2,284.4 1012.2,292.3 1013.1,302.5 1014.0,299.4 1014.9,298.4 1015.8,297.5 1016.7,294.1 1017.5,291.2 1018.4,290.5 1019.2,288.9 1020.1,288.0 1020.9,285.6 1021.8,272.9 1022.7,262.2 1023.6,250.1 1024.5,249.1 1025.5,246.4 1026.4,244.6 1027.7,231.0 1028.6,234.5 1029.6,238.9 1030.5,241.9 1031.3,242.2 1032.1,242.6 1033.0,240.0 1033.8,242.0 1034.6,240.5 1035.5,233.5 1036.4,225.8 1037.3,220.1 1038.2,218.6 1039.1,217.0 1040.0,217.3 1041.1,221.2 1042.2,225.5 1043.1,224.6 1044.0,219.9 1045.0,218.6 1045.9,218.7 1046.8,216.0 1047.7,214.7 1048.6,214.7 1049.5,211.6 1050.4,211.9 1051.3,198.9 1052.3,186.0 1053.2,191.7 1054.2,201.0 1055.1,205.6 1056.0,212.6 1056.9,218.6 1057.8,222.8 1058.7,225.3 1059.6,224.5 1060.5,225.5 1061.4,220.1 1062.3,216.0 1063.2,211.9 1064.0,205.8 1064.8,204.6 1065.6,200.1 1066.3,193.7 1067.1,192.1 1067.9,186.0 1068.8,191.8 1069.7,200.9 1070.5,206.6 1071.4,214.6 1072.3,216.5 1073.2,222.3 1074.1,225.5 1074.9,223.2 1075.7,224.4 1076.5,221.1 1077.2,220.9 1078.0,219.2 1078.8,218.6 1079.6,217.3 1080.5,217.7 1081.3,220.2 1082.2,221.0 1083.1,221.4 1083.9,225.2 1084.8,228.8 1085.6,234.5 1086.4,236.4 1087.2,234.9 1088.0,234.3 1088.9,234.7 1089.7,233.1 1090.5,232.3 1091.4,228.4 1092.3,227.6 1093.2,225.5 1094.0,225.1 1094.8,224.5 1095.7,225.7 1096.5,224.4 1097.3,225.5 1098.1,223.9 1098.9,221.6 1099.8,223.0 1100.6,219.8 1101.4,218.7 1102.3,218.7 1103.3,218.1 1104.2,217.3 1105.5,187.3 1106.3,185.8 1107.1,182.8 1108.0,181.5 1108.8,178.7 1109.6,176.4 1110.5,173.6 1111.4,174.7 1112.3,172.0 1113.2,172.3 1114.0,170.9 1114.8,167.8 1115.6,164.8 1116.4,162.8 1117.8,153.2 1118.7,155.5 1119.6,159.6 1120.5,165.5 1121.4,165.3 1122.3,167.2 1123.2,167.2 1124.1,169.6 1124.9,177.2 1125.8,181.7 1126.6,186.9 1127.4,192.8 1128.3,200.0 1129.2,208.8 1130.1,217.3 1130.9,216.9 1131.6,216.5 1132.4,216.7 1133.2,217.4 1134.0,214.6 1134.7,216.4 1135.5,216.0 1136.3,217.7 1137.1,215.8 1137.9,217.6 1138.6,218.0 1139.4,217.8 1140.2,220.5 1141.0,220.1 1141.8,218.2 1142.5,218.1 1143.3,215.8 1144.1,213.5 1144.9,212.5 1145.6,210.3 1146.4,209.1 1147.3,208.7 1148.1,213.1 1149.0,213.3 1149.9,215.4 1150.7,213.7 1151.6,216.8 1152.4,223.4 1153.3,228.8 1154.1,233.5 1154.9,231.9 1155.7,228.6 1156.4,229.0 1157.2,226.7 1158.0,225.8 1158.8,226.7 1159.7,228.0 1160.5,228.1 1161.4,230.0 1162.2,231.2 1163.1,232.3 1163.9,233.1 1164.6,230.9 1165.4,232.2 1166.2,228.5 1166.9,228.9 1167.7,229.6 1168.5,226.2 1169.3,227.7 1170.0,226.8 1170.8,225.8 1171.6,224.9 1172.3,225.1 1173.1,226.6 1173.9,224.4 1174.7,224.8 1175.4,224.7 1176.2,225.3 1177.0,222.0 1177.7,222.1 1178.5,223.3 1179.3,219.9 1180.1,218.9 1180.8,217.7 1181.6,215.9 1182.4,213.0 1183.4,207.9 1184.3,204.9 1185.2,198.5 1186.2,193.7 1187.1,200.8 1187.9,205.8 1188.8,213.0 1189.8,213.2 1190.7,211.0 1191.6,212.2 1192.6,210.4 1193.5,195.9 1194.3,181.4 1195.2,164.2 1196.1,162.9 1196.9,161.3 1197.8,161.6 1198.7,163.5 1199.5,164.1 1200.3,164.3 1201.2,164.6 1202.1,167.8 1202.9,168.1 1203.8,167.4 1204.6,169.8 1205.5,172.4 1206.4,172.1 1207.2,173.9 1208.1,174.5 1208.9,177.1 1209.8,179.4 1210.7,182.0 1211.5,183.7 1212.3,184.8 1213.2,187.3 1214.2,187.3 1215.1,189.6 1216.0,190.5 1217.0,192.4 1217.8,193.9 1218.6,195.8 1219.3,196.4 1220.1,196.0 1220.9,198.0 1221.7,198.9 1222.5,197.4 1223.3,195.5 1224.1,195.8 1224.9,193.6 1225.7,191.9 1226.5,188.8 1227.3,188.6 1228.1,186.3 1228.9,186.9 1229.7,188.3 1230.5,186.4 1231.3,186.1 1232.1,185.4 1232.9,185.7 1233.7,184.7 1234.5,184.2 1235.3,185.4 1236.0,183.1 1236.8,182.4 1237.6,182.2 1238.6,179.1 1239.6,173.2 1240.4,174.1 1241.2,174.3 1242.0,174.3 1242.9,173.9 1243.7,174.4 1244.5,174.9 1245.3,174.5 1246.1,174.1 1246.8,171.7 1247.6,174.3 1248.4,171.9 1249.2,171.3 1249.9,171.0 1250.7,170.1 1251.5,169.5 1252.2,169.7 1253.0,169.3 1254.0,171.5 1254.9,171.6 1255.8,173.7 1256.8,174.5 1257.6,170.8 1258.4,170.6 1259.1,166.4 1259.9,165.9 1260.7,162.9 1261.6,155.8 1262.4,149.5 1263.3,143.7 1264.2,142.0 1265.0,141.6 1265.8,142.2 1266.7,141.0 1267.6,141.3 1268.4,141.1 1269.2,139.7 1270.0,135.1 1270.7,133.0 1271.5,130.7 1272.3,128.2 1273.1,124.2 1273.9,121.3 1274.8,118.2 1275.6,114.5 1276.4,119.6 1277.2,121.9 1277.9,126.5 1278.7,130.8 1279.5,131.7 1280.4,134.2 1281.2,133.0 1282.1,135.2 1283.0,136.9 1283.8,137.2 1284.6,140.4 1285.4,141.7 1286.1,143.9 1286.9,145.7 1287.7,150.1 1288.5,151.3 1289.4,153.2 1290.2,155.2 1291.0,153.9 1291.8,156.5 1292.6,156.0 1293.4,155.8 1294.2,156.3 1295.0,153.7 1295.8,152.6 1296.5,149.8 1297.3,148.0 1298.8,133.4 1299.7,137.4 1300.6,139.9 1301.5,143.8 1302.3,144.1 1303.0,140.6 1303.8,140.4 1304.6,140.7 1305.4,138.6 1306.2,133.9 1306.9,130.6 1307.7,125.0 1308.6,117.6 1309.5,112.6 1310.4,105.3 1311.5,113.6 1312.5,119.8 1313.4,139.6 1314.3,138.4 1315.2,135.3 1316.1,133.4 1317.2,135.9 1318.2,135.5 1319.6,166.8 1320.4,158.9 1321.3,150.1 1322.3,148.0 1323.4,148.4 1324.5,157.3 1325.5,162.6 1326.3,163.8 1327.0,166.0 1327.8,165.1 1328.6,166.8 1329.7,165.3 1330.7,165.7 1331.8,173.9 1332.8,180.3 1333.6,181.1 1334.3,179.6 1335.1,180.5 1335.9,180.3 1336.7,180.9 1337.6,182.3 1338.4,187.0 1339.3,186.7 1340.1,189.7 1341.2,184.2 1342.2,177.2 1343.0,180.9 1343.8,182.8 1344.5,186.5 1345.3,187.6 1346.1,190.3 1346.9,192.5 1347.8,194.5 1348.6,197.2 1349.4,199.1 1350.2,198.2 1351.0,195.6 1351.8,195.2 1352.6,193.9 1353.6,206.4 1354.5,199.1 1355.4,194.3 1356.3,185.5 1357.1,189.9 1358.0,191.0 1358.8,194.9 1359.6,195.5 1360.4,193.1 1361.2,195.0 1362.0,194.9 1363.0,188.9 1364.0,179.3 1364.8,180.4 1365.6,182.6 1366.4,182.0 1367.2,183.4 1368.0,182.2 1368.9,180.5 1369.7,176.6 1370.6,176.0 1371.4,175.1 1372.2,177.9 1373.1,176.3 1373.9,178.2 1374.9,175.3 1375.9,169.9 1376.8,175.3 1377.6,177.2 1378.4,179.9 1379.3,183.6 1380.1,185.7 1381.0,187.4 1381.8,190.7 1382.6,193.6 1383.3,195.8 1384.1,196.8 1384.9,200.1 1386.4,213.7 1387.3,214.0 1388.2,213.9 1389.2,215.7 1390.1,216.8 1390.9,216.5 1391.7,215.3 1392.5,214.2 1393.3,215.8 1394.1,215.2 1394.9,214.5 1395.8,211.1 1396.6,210.8 1397.4,209.5 1398.2,209.1 1399.0,208.2 1399.8,212.1 1400.6,210.6 1401.4,212.2 1402.2,211.8 1402.9,215.8 1403.7,215.8 1404.6,215.8 1405.4,215.8 1406.3,214.4 1407.2,213.5 1408.0,213.7 1408.9,211.6 1410.0,212.4 1411.0,213.7 1411.8,211.9 1412.7,208.5 1413.5,206.3 1414.4,205.6 1415.2,203.3 1416.0,204.0 1416.8,202.7 1417.5,205.2 1418.3,206.4 1419.1,204.6 1419.9,206.0 1420.6,208.6 1421.4,207.4 1422.3,207.6 1423.1,210.1 1424.0,211.3 1424.9,211.8 1425.7,212.8 1426.6,213.7 1427.7,214.8 1428.7,214.7 1429.6,214.0 1430.4,212.8 1431.3,210.1 1432.2,210.8 1433.0,208.7 1433.9,208.5 1434.7,209.9 1435.5,210.0 1436.3,209.2 1437.1,206.1 1437.8,208.8 1438.6,207.8 1439.4,206.4 1440.2,207.4 1441.1,205.8 1442.0,207.7 1443.0,205.6 1443.9,205.7 1444.8,205.4 1445.8,204.5 1446.7,204.4 1447.7,202.5 1448.7,196.8 1449.6,194.8 1450.4,195.7 1451.2,193.2 1451.9,193.3 1452.7,193.9 1453.5,192.9 1454.5,190.7 1455.4,186.0 1456.4,185.2 1457.4,187.1 1458.3,187.6 1459.3,189.0 1460.2,190.4 1461.2,193.2 1462.1,194.6 1463.1,198.6 1463.9,199.5 1464.7,200.2 1465.4,198.2 1466.2,198.4 1467.0,199.0 1467.8,197.5 1468.7,198.3 1469.6,198.0 1470.4,199.0 1471.2,195.1 1472.0,192.8 1472.8,187.1 1474.3,175.5 1475.7,133.1 1476.7,130.8 1477.6,126.4 1478.5,129.8 1479.5,131.2 1480.9,129.3 1481.4,158.2 1482.4,157.9 1483.3,160.3 1484.3,160.1 1485.3,156.0 1486.3,153.4 1487.2,149.6 1488.2,147.6 1489.2,152.7 1490.1,156.3 1491.1,154.3 1492.0,154.2 1493.0,150.5 1494.0,148.8 1494.9,146.3 1495.9,144.7 1496.8,149.8 1497.8,153.4 1498.6,151.1 1499.4,151.8 1500.1,151.5 1500.9,148.6 1501.7,147.6 1502.7,146.1 1503.6,146.8 1504.6,144.7 1505.5,146.0 1506.5,149.5 1507.5,149.9 1508.4,149.5 1509.8,142.8 1511.3,162.0 1512.3,162.8 1513.2,164.9 1514.2,165.9 1515.2,164.9 1516.1,166.0 1517.0,165.7 1518.0,164.9 1518.8,165.6 1519.7,162.3 1520.5,162.0 1521.3,160.5 1522.1,162.8 1523.0,167.8 1523.8,172.6 1524.6,173.8 1525.4,173.2 1526.1,175.4 1526.9,175.6 1527.7,177.5 1528.7,178.7 1529.6,179.5 1530.5,179.1 1531.5,180.3 1532.3,181.2 1533.1,180.1 1533.8,181.0 1534.6,181.6 1535.4,181.3 1536.4,182.8 1537.3,183.8 1538.3,184.2 1539.2,187.8 1540.2,187.4 1541.1,189.8 1542.1,191.9 1543.1,187.2 1544.0,187.0 1545.0,183.2 1545.8,182.6 1546.6,183.6 1547.4,184.1 1548.2,185.5 1549.0,185.3 1549.8,186.1 1550.8,190.0 1551.7,194.5 1552.7,198.6 1553.5,198.8 1554.3,199.7 1555.0,199.4 1555.8,200.4 1556.6,201.5 1557.5,203.2 1558.5,208.2 1559.5,211.1 1560.4,213.1 1561.4,213.8 1562.3,213.4 1563.3,213.1 1564.1,211.2 1564.9,211.0 1565.6,207.5 1566.4,205.9 1567.2,206.4 1568.0,204.7 1568.8,206.9 1569.6,205.2 1570.4,206.0 1571.2,203.3 1572.0,203.5 1572.8,203.4 1573.6,202.8 1574.4,201.1 1575.2,199.3 1576.0,198.9 1576.8,196.7 1577.6,196.0 1578.5,198.0 1579.3,194.8 1580.2,195.0 1581.0,195.5 1581.9,194.5 1582.8,196.8 1583.6,194.8 1584.5,194.5 1585.5,192.9 1586.3,192.2 1587.1,194.6 1587.9,194.3 1588.7,192.5 1589.5,194.5 1590.3,192.9 1591.3,192.5 1592.2,189.1 1593.2,188.0 1594.0,187.8 1594.8,189.1 1595.5,190.3 1596.3,191.2 1597.1,190.0 1598.0,191.3 1599.0,189.0 1600.0,187.5 1600.9,189.0 1601.8,189.3 1602.8,192.9 1603.6,195.0 1604.4,195.1 1605.1,195.8 1605.9,195.2 1606.7,195.8 1607.7,194.9 1608.6,194.4 1609.6,192.9 1610.6,191.1 1611.6,188.3 1612.4,187.4 1613.2,185.4 1614.0,184.0 1614.8,184.5 1615.6,183.4 1616.4,182.2 1617.2,182.7 1618.0,180.2 1618.8,179.3 1619.6,178.8 1620.4,179.0 1621.2,181.0 1622.0,182.0 1622.8,184.7 1623.6,183.7 1624.4,185.0 1625.2,179.5 1626.0,175.4 1626.8,173.6 1627.7,172.7 1628.5,169.0 1629.3,173.3 1630.1,175.4 1630.9,176.1 1631.7,176.0 1632.5,174.6 1633.3,174.8 1634.1,174.6 1634.9,174.7 1635.7,175.8 1636.5,171.8 1637.3,172.8 1638.1,173.0 1638.9,174.7 1639.7,175.4 1640.5,177.0 1641.3,176.1 1642.1,175.1 1642.9,173.6 1643.7,173.8 1644.5,175.9 1645.3,178.3 1646.1,178.6 1646.9,178.7 1647.7,180.0 1648.5,181.2 1649.3,179.9 1650.1,181.0 1650.9,181.5 1651.7,181.0 1652.5,184.5 1653.3,185.3 1654.1,184.2 1654.9,184.5 1655.7,187.1 1656.5,185.8 1657.3,187.1 1658.1,184.8 1658.9,187.6 1659.7,187.5 1660.5,186.4 1661.4,185.3 1662.2,183.4 1663.0,183.1 1663.8,180.9 1664.6,181.5 1665.4,179.4 1666.2,179.8 1667.0,181.5 1667.8,179.7 1668.6,178.1 1669.4,181.9 1670.2,180.2 1671.0,181.2 1671.8,179.4 1672.6,181.0 1673.4,181.3 1674.2,182.6 1675.0,182.3 1675.8,179.6 1676.6,180.2 1677.4,177.8 1678.2,177.5 1679.0,179.2 1679.8,177.8 1680.6,178.6 1681.4,177.8 1682.2,180.0 1683.0,179.6 1683.8,180.2 1684.6,180.9 1685.4,178.8 1686.2,179.6 1687.0,180.4 1687.8,182.7 1688.6,181.0 1689.4,181.3 1690.2,179.1 1691.0,178.8 1691.8,182.3 1692.6,180.7 1693.4,180.2 1694.2,179.4 1695.0,182.1 1695.9,182.5 1696.7,183.9 1697.5,182.6 1698.3,182.8 1699.1,182.1 1699.9,183.4 1700.7,181.2 1701.5,182.2 1702.3,182.6 1703.1,180.2 1703.9,179.2 1704.7,177.1 1705.5,177.0 1706.3,175.2 1707.1,175.2 1707.9,176.4 1708.7,175.8 1709.5,175.4 1710.3,174.7 1711.1,174.6 1711.9,174.2 1712.7,173.3 1713.5,172.2 1714.3,175.6 1715.1,175.7 1715.9,177.4 1716.7,178.6 1717.5,175.5 1718.3,174.5 1719.1,172.2 1719.9,168.2 1720.7,166.0 1721.5,168.2 1722.3,165.9 1723.1,167.0 1723.9,166.3 1724.7,165.8 1725.5,162.9 1726.3,161.2 1727.1,161.0 1727.9,158.7 1728.7,158.8 1729.5,153.8 1730.3,153.0 1731.1,151.3 1731.9,150.5 1732.7,150.6 1733.6,151.1 1734.4,152.9 1735.2,152.2 1736.0,153.3 1736.8,150.8 1737.6,150.6 1738.4,149.2 1739.2,148.9 1740.0,151.8 1740.8,151.4 1741.6,153.5 1742.4,153.9 1743.2,155.4 1744.0,156.8 1744.8,156.0 1745.6,155.5 1746.4,158.5 1747.2,157.0 1748.0,154.6 1748.8,155.9 1749.6,154.7 1750.4,153.5 1751.2,153.8 1752.0,155.0 1752.8,153.0 1753.6,151.7 1754.4,150.7 1755.2,151.0 1756.0,152.0 1756.8,152.3 1757.6,153.0 1758.4,152.6 1759.2,152.1 1760.0,154.1 1760.8,152.7 1761.6,152.1 1762.4,152.2 1763.2,149.8 1764.0,149.1 1764.8,149.5 1765.6,146.9 1766.4,146.5 1767.2,146.2 1768.1,144.4 1768.9,143.9 1769.7,142.5 1770.5,139.9 1771.3,136.2 1772.1,133.7 1772.9,132.4 1773.7,131.6 1774.5,131.4 1775.3,129.7 1776.1,130.5 1776.9,128.6 1777.7,125.4 1778.5,125.7 1779.3,125.9 1780.1,122.4 1780.9,120.9 1781.7,119.9 1782.5,120.4 1783.3,119.9 1784.1,119.9 1784.9,119.3 1785.7,120.1 1786.5,120.9 1787.3,121.7 1788.1,121.8 1788.9,119.3 1789.7,124.7 1790.5,126.9 1791.3,130.5 1792.1,131.8 1792.9,130.9 1793.7,129.7 1794.8,131.3 1795.8,130.5" stroke="#2196f3" stroke-width="3.2"/>
</g>
<rect x="1796" y="116" width="51" height="27" fill="#2196f3"/>
<rect x="1796" y="129" width="6" height="1" fill="#ffffff"/>
<circle cx="70.8" cy="546" r="15.5" fill="#1e2232"/>
<circle cx="1821.5" cy="546" r="15.5" fill="#1e2232"/>
<path d="M9 587 H23 V604 H15.6 V593.3 H9 Z" fill="#d1d4dc"/>
<circle cx="28.5" cy="590.1" r="3.3" fill="#d1d4dc"/>
<path d="M34.4 587 H42.8 L35.5 604 H28.2 Z" fill="#d1d4dc"/>
</svg>
<div class="t" style="left:9px;top:8.70px;font-size:19.25px;color:#c6c9d1;font-weight:400;">Published on TradingView.com, January 29, 2022 14:33:13 +03</div>
<div class="t" style="left:9px;top:34.81px;font-size:18.3px;color:#d1d4dc;font-weight:700;">TIE:oxygen/oxygen, 5</div>
<div class="t" style="left:205px;top:34.81px;font-size:18.3px;color:#d1d4dc;font-weight:700;">O:</div>
<div class="t" style="left:226.3px;top:34.81px;font-size:18.3px;color:#d1d4dc;font-weight:400;">0.5</div>
<div class="t" style="left:260px;top:34.81px;font-size:18.3px;color:#d1d4dc;font-weight:700;">H:</div>
<div class="t" style="left:280.6px;top:34.81px;font-size:18.3px;color:#d1d4dc;font-weight:400;">0.5</div>
<div class="t" style="left:314px;top:34.81px;font-size:18.3px;color:#d1d4dc;font-weight:700;">L:</div>
<div class="t" style="left:330.3px;top:34.81px;font-size:18.3px;color:#d1d4dc;font-weight:400;">0.5</div>
<div class="t" style="left:363.2px;top:34.81px;font-size:18.3px;color:#d1d4dc;font-weight:700;">C:</div>
<div class="t" style="left:382.6px;top:34.81px;font-size:18.3px;color:#d1d4dc;font-weight:400;">0.5</div>
<div class="t" style="left:142.8px;top:82.82px;font-size:17.7px;color:#c6c9d1;font-weight:700;">Oxygen, 5, TIE</div>
<div class="t" style="left:142.8px;top:107.46px;font-size:19.3px;color:#c6c9d1;font-weight:400;">Volume</div>
<div class="t" style="left:142.8px;top:134.06px;font-size:18.6px;color:#c6c9d1;font-weight:400;">(The TIE) Trading Volume</div>
<div class="t" style="right:1741px;top:83.19px;font-size:17.5px;color:#c8cbd3;font-weight:400;text-align:right">4000000.00</div>
<div class="t" style="right:1741px;top:128.97px;font-size:17.5px;color:#c8cbd3;font-weight:400;text-align:right">3600000.00</div>
<div class="t" style="right:1741px;top:174.75px;font-size:17.5px;color:#c8cbd3;font-weight:400;text-align:right">3200000.00</div>
<div class="t" style="right:1741px;top:220.53px;font-size:17.5px;color:#c8cbd3;font-weight:400;text-align:right">2800000.00</div>
<div class="t" style="right:1741px;top:266.31px;font-size:17.5px;color:#c8cbd3;font-weight:400;text-align:right">2400000.00</div>
<div class="t" style="right:1741px;top:312.09px;font-size:17.5px;color:#c8cbd3;font-weight:400;text-align:right">2000000.00</div>
<div class="t" style="right:1741px;top:357.87px;font-size:17.5px;color:#c8cbd3;font-weight:400;text-align:right">1600000.00</div>
<div class="t" style="right:1741px;top:403.65px;font-size:17.5px;color:#c8cbd3;font-weight:400;text-align:right">1200000.00</div>
<div class="t" style="right:1741px;top:449.43px;font-size:17.5px;color:#c8cbd3;font-weight:400;text-align:right">800000.00</div>
<div class="t" style="right:1741px;top:495.21px;font-size:17.5px;color:#c8cbd3;font-weight:400;text-align:right">400000.00</div>
<div class="t" style="left:1808.5px;top:90.99px;font-size:17.5px;color:#c8cbd3;font-weight:400;letter-spacing:1px">0.4</div>
<div class="t" style="left:1808.5px;top:261.99px;font-size:17.5px;color:#c8cbd3;font-weight:400;letter-spacing:1px">0.3</div>
<div class="t" style="left:1808.5px;top:432.99px;font-size:17.5px;color:#c8cbd3;font-weight:400;letter-spacing:1px">0.2</div>
<div class="t" style="left:1809px;top:121.99px;font-size:17.5px;color:#ffffff;font-weight:700;letter-spacing:0.6px">0.4</div>
<div class="t" style="left:159.10000000000002px;width:200px;top:540.19px;font-size:17.5px;color:#c8cbd3;font-weight:400;text-align:center;">22</div>
<div class="t" style="left:375.1px;width:200px;top:540.19px;font-size:17.5px;color:#c8cbd3;font-weight:400;text-align:center;">23</div>
<div class="t" style="left:591.1px;width:200px;top:540.19px;font-size:17.5px;color:#c8cbd3;font-weight:400;text-align:center;">24</div>
<div class="t" style="left:807.1px;width:200px;top:540.19px;font-size:17.5px;color:#c8cbd3;font-weight:400;text-align:center;">25</div>
<div class="t" style="left:1023.0999999999999px;width:200px;top:540.19px;font-size:17.5px;color:#c8cbd3;font-weight:400;text-align:center;">26</div>
<div class="t" style="left:1239.1px;width:200px;top:540.19px;font-size:17.5px;color:#c8cbd3;font-weight:400;text-align:center;">27</div>
<div class="t" style="left:1455.1px;width:200px;top:540.19px;font-size:17.5px;color:#c8cbd3;font-weight:400;text-align:center;">28</div>
<div class="t" style="left:1671.1px;width:200px;top:540.19px;font-size:17.5px;color:#c8cbd3;font-weight:400;text-align:center;">29</div>
<div class="t" style="left:-29px;width:200px;top:536.39px;font-size:18.8px;color:#8f929b;font-weight:400;text-align:center;transform:scaleX(0.8)">Z</div>
<div class="t" style="left:1721.5px;width:200px;top:536.39px;font-size:18.8px;color:#8f929b;font-weight:400;text-align:center;transform:scaleX(0.9)">A</div>
<div class="t" style="left:49.5px;top:585.11px;font-size:23.5px;color:#d1d4dc;font-weight:700;letter-spacing:0px">TradingView</div>
</body></html>
